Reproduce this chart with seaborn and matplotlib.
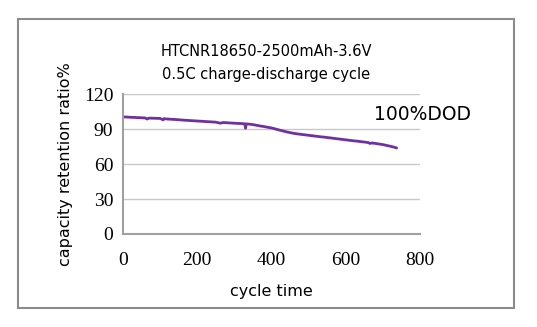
import matplotlib
matplotlib.use("Agg")
import matplotlib.pyplot as plt
import seaborn as sns
import pandas as pd
from matplotlib.patches import Rectangle

cycles = [0, 10, 20, 30, 40, 50, 60, 65, 70, 80, 90, 100, 108, 110, 120, 130, 140, 150,
          160, 170, 180, 190, 200, 210, 220, 230, 240, 250, 262, 270, 280, 290, 300, 310,
          320, 328, 330, 332, 340, 350, 360, 370, 380, 390, 400, 410, 420, 430, 440, 450,
          460, 470, 480, 490, 500, 510, 520, 530, 540, 550, 560, 570, 580, 590, 600, 610,
          620, 630, 640, 650, 660, 665, 670, 680, 690, 700, 710, 720, 730, 737]
capacity = [100.8, 100.6, 100.4, 100.3, 100.1, 100.0, 99.8, 98.9, 99.7, 99.6, 99.5, 99.4, 98.2,
            99.2, 98.9, 98.7, 98.5, 98.3, 98.0, 97.8, 97.6, 97.4, 97.2, 97.0, 96.8, 96.6,
            96.4, 96.2, 95.3, 95.9, 95.7, 95.5, 95.3, 95.1, 95.0, 94.8, 91.0, 94.7, 94.5,
            94.1, 93.5, 92.9, 92.4, 91.8, 91.2, 90.4, 89.5, 88.7, 87.9, 87.2, 86.6, 86.1,
            85.7, 85.3, 84.9, 84.5, 84.1, 83.7, 83.4, 83.0, 82.6, 82.2, 81.8, 81.4, 81.0,
            80.6, 80.2, 79.9, 79.5, 79.1, 78.7, 77.9, 78.3, 77.9, 77.4, 76.9, 76.2, 75.5,
            74.7, 74.0]

title_lines = ["HTCNR18650-2500mAh-3.6V", "0.5C charge-discharge cycle"]
x_ticks = [0, 200, 400, 600, 800]
y_ticks = [0, 30, 60, 90, 120]

df = pd.DataFrame({"cycle": cycles, "capacity": capacity})

sns.set_theme(style="white")
plt.rcParams["font.family"] = ["DejaVu Sans"]
plt.rcParams["text.color"] = "black"
plt.rcParams["axes.labelcolor"] = "black"
plt.rcParams["xtick.color"] = "black"
plt.rcParams["ytick.color"] = "black"

fig = plt.figure(figsize=(5.37, 3.27), dpi=100)
fig.patch.set_facecolor("white")
fig.patches.append(Rectangle((18 / 537, 19 / 327), (514 - 18) / 537, (308 - 19) / 327,
                             transform=fig.transFigure, fill=False,
                             edgecolor="#8c8c8c", linewidth=1.5))

ax = fig.add_axes([123 / 537, 93 / 327, (420 - 123) / 537, (232.5 - 93) / 327])
sns.lineplot(data=df, x="cycle", y="capacity", ax=ax, color="#7030A0", linewidth=2.0)

ax.set_xlim(0, 800)
ax.set_ylim(0, 120)
ax.set_xticks(x_ticks)
ax.set_yticks(y_ticks)
ax.set_xticklabels([str(t) for t in x_ticks], family="Liberation Serif", fontsize=14)
ax.set_yticklabels([str(t) for t in y_ticks], family="Liberation Serif", fontsize=14)
ax.tick_params(axis="x", length=0, pad=13)
ax.tick_params(axis="y", length=0, pad=7)
ax.yaxis.grid(True, color="#c8c8c8", linewidth=1)
ax.xaxis.grid(False)
for s in ["top", "right"]:
    ax.spines[s].set_visible(False)
for s in ["left", "bottom"]:
    ax.spines[s].set_color("#a0a0a0")
    ax.spines[s].set_linewidth(1.5)

ax.set_xlabel("cycle time", fontsize=11.5, labelpad=11)
ax.set_ylabel("capacity retention ratio%", fontsize=11.5, labelpad=8)

fig.text(266 / 537, 1 - 51 / 327, title_lines[0], ha="center", va="center", fontsize=10.5)
fig.text(266 / 537, 1 - 75 / 327, title_lines[1], ha="center", va="center", fontsize=10.5)
ax.text(0.845, 0.855, "100%DOD", transform=ax.transAxes, fontsize=13.5, ha="left", va="center")

fig.savefig("out.png", dpi=100)
